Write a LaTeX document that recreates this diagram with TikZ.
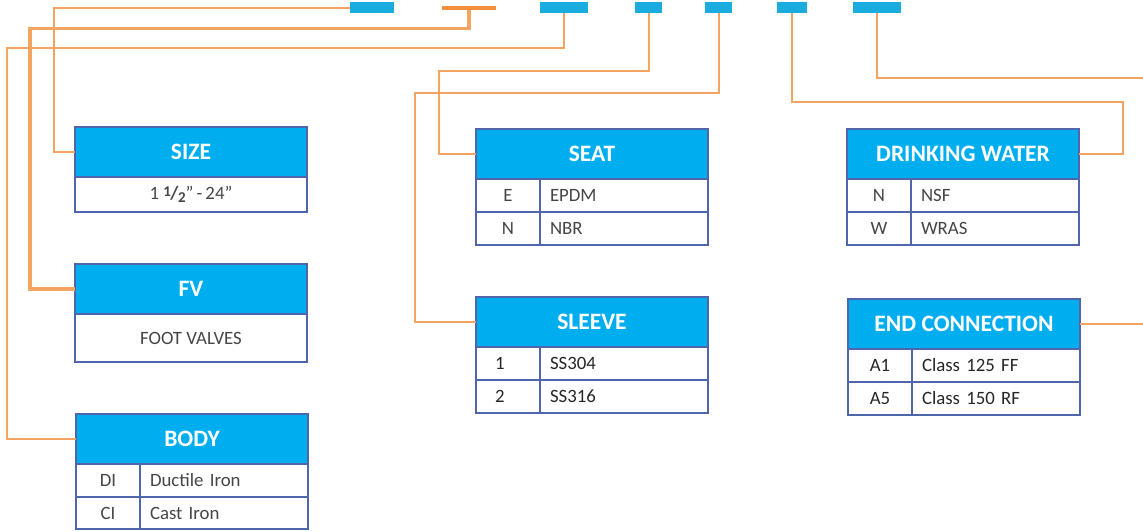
\documentclass[tikz,border=0pt]{standalone}
\usepackage{fontspec}
\setmainfont{Carlito}
\usetikzlibrary{positioning}

\definecolor{hdcyan}{HTML}{00AEEF}
\definecolor{barblue}{HTML}{1AABDF}
\definecolor{rulecol}{HTML}{4F66AC}
\definecolor{leadcol}{HTML}{F4A461}
\definecolor{leadbar}{HTML}{F28E3C}
\definecolor{txtgray}{HTML}{454545}
\definecolor{txtdark}{HTML}{262626}

\tikzset{
  head/.style={draw=rulecol, fill=hdcyan, line width=1.2pt, anchor=north west,
    minimum width=232pt, minimum height=50pt, inner sep=0pt, outer sep=0pt, text=white,
    font=\fontsize{23.5}{28}\selectfont\bfseries},
  tcell/.style={draw=rulecol, line width=1.2pt, anchor=north west,
    minimum height=33pt, inner sep=0pt, outer sep=0pt, text=txtgray,
    font=\fontsize{18.8}{22}\selectfont},
  keycell/.style={tcell, minimum width=64pt},
  txtcell/.style={tcell, minimum width=168pt, text width=148pt, inner xsep=10pt, align=left},
  onecell/.style={tcell, minimum width=232pt},
  codebar/.style={fill=barblue, anchor=north west, minimum height=11pt, inner sep=0pt},
  leadline/.style={draw=leadcol, line width=2pt},
}

\begin{document}
\begin{tikzpicture}[x=1pt,y=-1pt]
\useasboundingbox (0,0) rectangle (1143,531);

% code bars along the top
\node[codebar, minimum width=44pt] (szbar) at (350,2) {};
\node[fill=leadbar, anchor=north west, minimum width=54pt, minimum height=4pt, inner sep=0pt] (fvbar) at (442,6) {};
\node[codebar, minimum width=48pt] (bdbar) at (540,2) {};
\node[codebar, minimum width=27pt] (stbar) at (635,2) {};
\node[codebar, minimum width=27pt] (slbar) at (705,2) {};
\node[codebar, minimum width=30pt] (dwbar) at (777,2) {};
\node[codebar, minimum width=48pt] (ecbar) at (853,2) {};
\coordinate (ecout) at (1143,78);

% tables
\node[head] (szhd) at (75,127) {SIZE};
\node[onecell, minimum height=35pt] (szrow) at (szhd.south west)
  {1 \raisebox{3.5pt}{\fontsize{15}{15}\selectfont\bfseries 1}\kern-0.5pt{\bfseries/}\kern-0.5pt\raisebox{-2.5pt}{\fontsize{15}{15}\selectfont\bfseries 2}''\,-\,24''};

\node[head] (fvhd) at (75,264) {FV};
\node[onecell, minimum height=48pt] (fvrow) at (fvhd.south west) {FOOT VALVES};

\node[head] (bdhd) at (76,414) {BODY};
\node[keycell] (bdk1) at (bdhd.south west) {DI};
\node[txtcell] (bdt1) at (bdk1.north east) {Ductile Iron};
\node[keycell, minimum height=32pt] (bdk2) at (bdk1.south west) {CI};
\node[txtcell, minimum height=32pt] (bdt2) at (bdk2.north east) {Cast Iron};

\node[head] (sthd) at (476,129) {SEAT};
\node[keycell] (stk1) at (sthd.south west) {E};
\node[txtcell] (stt1) at (stk1.north east) {EPDM};
\node[keycell] (stk2) at (stk1.south west) {N};
\node[txtcell] (stt2) at (stk2.north east) {NBR};

\node[head] (slhd) at (476,297) {SLEEVE};
\node[keycell, text=txtdark, text width=26pt, align=left] (slk1) at (slhd.south west) {1};
\node[txtcell, text=txtdark] (slt1) at (slk1.north east) {SS304};
\node[keycell, text=txtdark, text width=26pt, align=left] (slk2) at (slk1.south west) {2};
\node[txtcell, text=txtdark] (slt2) at (slk2.north east) {SS316};

\node[head] (dwhd) at (847,129) {DRINKING WATER};
\node[keycell] (dwk1) at (dwhd.south west) {N};
\node[txtcell] (dwt1) at (dwk1.north east) {NSF};
\node[keycell] (dwk2) at (dwk1.south west) {W};
\node[txtcell] (dwt2) at (dwk2.north east) {WRAS};

\node[head] (echd) at (848,299) {END CONNECTION};
\node[keycell, text=txtdark] (eck1) at (echd.south west) {A1};
\node[txtcell, text=txtdark] (ect1) at (eck1.north east) {Class 125 FF};
\node[keycell, text=txtdark] (eck2) at (eck1.south west) {A5};
\node[txtcell, text=txtdark] (ect2) at (eck2.north east) {Class 150 RF};

% leader lines
\draw[leadline] (szbar.west) -| ([xshift=-21pt]szhd.west) -- (szhd.west);
\draw[leadline, line width=3.8pt] (fvbar.south) -- ++(0,18) -| ([xshift=-45pt]fvhd.west) -- (fvhd.west);
\draw[leadline] (bdbar.south) -- ++(0,35) -| ([xshift=-69pt]bdhd.west) -- (bdhd.west);
\draw[leadline] (stbar.south) -- ++(0,58) -| ([xshift=-37pt]sthd.west) -- (sthd.west);
\draw[leadline] (slbar.south) -- ++(0,80) -| ([xshift=-61pt]slhd.west) -- (slhd.west);
\draw[leadline] (dwbar.south) -- ++(0,89) -| ([xshift=44pt]dwhd.east) -- (dwhd.east);
\draw[leadline] (ecbar.south) |- (ecout);
\draw[leadline] (echd.east) -- (echd.east -| ecout);
\end{tikzpicture}
\end{document}
